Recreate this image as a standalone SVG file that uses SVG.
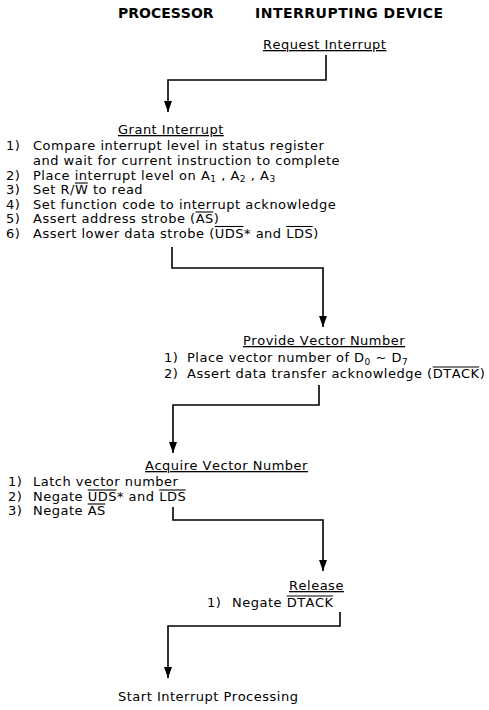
<svg xmlns="http://www.w3.org/2000/svg" width="489" height="710" viewBox="0 0 489 710">
<style>
text{font-family:"DejaVu Sans",Verdana,sans-serif;font-size:13px;letter-spacing:0.5px;fill:#000;font-kerning:none}
.hd{font-weight:bold;font-size:14px;letter-spacing:0}
.hd2{font-weight:bold;font-size:14px;letter-spacing:0.5px}
.t{text-decoration:underline}
.sub{font-size:9px}
.c{fill:none;stroke:#000;stroke-width:1.6;marker-end:url(#ah)}
.ov{stroke:#000;stroke-width:1.1}
</style>
<defs>
<marker id="ah" markerUnits="userSpaceOnUse" markerWidth="11" markerHeight="8" refX="11" refY="4" orient="auto"><path d="M0,0 L11,4 L0,8 z" fill="#000"/></marker>
</defs>
<rect width="489" height="710" fill="#fff"/>
<g id="header-processor"><text class="hd" x="118" y="18">PROCESSOR</text></g>
<g id="header-device"><text class="hd2" x="255" y="18">INTERRUPTING DEVICE</text></g>
<g id="request"><text class="t" x="263" y="49">Request Interrupt</text></g>
<g id="grant">
<text class="t" x="118" y="134">Grant Interrupt</text>
<text x="6" y="150">1)</text><text x="33" y="150">Compare interrupt level in status register</text>
<text x="33" y="164.5">and wait for current instruction to complete</text>
<text x="6" y="179.5">2)</text><text x="33" y="179.5">Place interrupt level on A<tspan class="sub" dy="2.5">1</tspan><tspan dy="-2.5"> , A</tspan><tspan class="sub" dy="2.5">2</tspan><tspan dy="-2.5"> , A</tspan><tspan class="sub" dy="2.5">3</tspan></text>
<text x="6" y="194">3)</text><text x="33" y="194">Set R/W to read</text>
<line class="ov" x1="74.9" y1="183" x2="87.8" y2="183"/>
<text x="6" y="208.5">4)</text><text x="33" y="208.5">Set function code to interrupt acknowledge</text>
<text x="6" y="223">5)</text><text x="33" y="223">Assert address strobe (AS)</text>
<line class="ov" x1="195.6" y1="212" x2="213.2" y2="212"/>
<text x="6" y="237.5">6)</text><text x="33" y="237.5">Assert lower data strobe (UDS* and LDS)</text>
<line class="ov" x1="214.7" y1="226.5" x2="243.5" y2="226.5"/>
<line class="ov" x1="286.2" y1="226.5" x2="312.7" y2="226.5"/>
</g>
<g id="provide">
<text class="t" x="243" y="345">Provide Vector Number</text>
<text x="164" y="362">1)</text><text x="187" y="362">Place vector number of D<tspan class="sub" dy="2.5">0</tspan><tspan dy="-2.5"> ~ D</tspan><tspan class="sub" dy="2.5">7</tspan></text>
<text x="164" y="378">2)</text><text x="187" y="378">Assert data transfer acknowledge (DTACK)</text>
<line class="ov" x1="432.7" y1="367" x2="479.1" y2="367"/>
</g>
<g id="acquire">
<text class="t" x="145" y="470">Acquire Vector Number</text>
<text x="8" y="486">1)</text><text x="33" y="486">Latch vector number</text>
<text x="8" y="501">2)</text><text x="33" y="501">Negate UDS* and LDS</text>
<line class="ov" x1="87.7" y1="490" x2="116.5" y2="490"/>
<line class="ov" x1="159.2" y1="490" x2="185.7" y2="490"/>
<text x="8" y="515">3)</text><text x="33" y="515">Negate AS</text>
<line class="ov" x1="87.7" y1="504" x2="105.3" y2="504"/>
</g>
<g id="release">
<text class="t" x="289" y="590">Release</text>
<text x="207" y="607">1)</text><text x="232" y="607">Negate DTACK</text>
<line class="ov" x1="286.7" y1="596" x2="333.1" y2="596"/>
</g>
<g id="start"><text x="118" y="701">Start Interrupt Processing</text></g>
<g id="connectors">
<polyline class="c" points="326,55 326,80 168,80 168,112"/>
<polyline class="c" points="172,247 172,268 323,268 323,327"/>
<polyline class="c" points="319,385 319,405 173,405 173,453"/>
<polyline class="c" points="173,507 173,520 323,520 323,571"/>
<polyline class="c" points="340,612 340,626 168,626 168,678"/>
</g>
</svg>
